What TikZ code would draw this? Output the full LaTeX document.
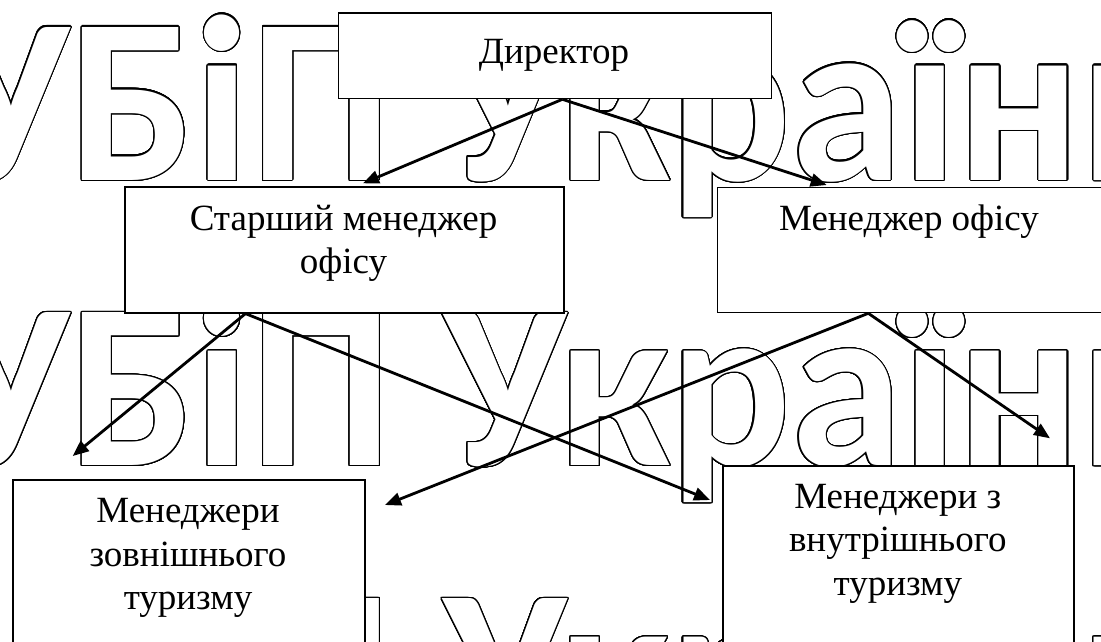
\documentclass[tikz,border=0pt]{standalone}
\usepackage{fontspec}
\setmainfont{Liberation Serif}
\newfontfamily\wmfont{Carlito}
\usepackage{graphicx}
\usepackage{contour}
\contourlength{1.2pt}
\contournumber{32}
\usetikzlibrary{arrows.meta,calc}
\newcommand{\lines}[1]{\begin{tabular}[t]{@{}c@{}}#1\end{tabular}}
\newcommand{\wmtext}{\scalebox{0.955}[1]{\contour{black}{УБіП України}}}
\begin{document}
\begin{tikzpicture}[x=1pt,y=-1pt,
  box/.style={draw=black, line width=1.6pt, fill=white, rectangle, inner sep=0pt, anchor=north west},
  lbl/.style={inner sep=0pt, anchor=base, font=\fontsize{37}{43.5}\selectfont},
  arr/.style={line width=2.8pt, -{Triangle[length=16pt,width=13pt]}},
  wm/.style={inner sep=0pt, anchor=base west, text=white, font=\fontsize{236}{236}\wmfont\bfseries}]
\useasboundingbox (0,0) rectangle (1101,641);
\clip (0,0) rectangle (1101,641);
% watermark
\node[wm] (wm1) at (-54,180) {\wmtext};
\node[wm] (wm2) at (-54,465.7) {\wmtext};
\node[wm] (wm3) at (-54,751.4) {\wmtext};
% boxes
\node[box, minimum width=433pt, minimum height=85.4pt] (dir) at (337.7,12.3) {};
\node[box, minimum width=439.3pt, minimum height=125.7pt] (sen) at (124,186.3) {};
\node[box, minimum width=420pt, minimum height=125pt] (off) at (716.7,186.7) {};
\node[box, minimum width=351.7pt, minimum height=200pt] (ext) at (12.3,479.3) {};
\node[box, minimum width=351pt, minimum height=200pt] (int) at (722.3,465) {};
% labels
\node[lbl] (dirT) at (554,63) {Директор};
\node[lbl] (senT) at (343.5,230) {\lines{Старший менеджер\\офісу}};
\node[lbl] (offT) at (909,230) {Менеджер офісу};
\node[lbl] (extT) at (188,522.7) {\lines{Менеджери\\зовнішнього\\туризму}};
\node[lbl] (intT) at (897.8,508) {\lines{Менеджери з\\внутрішнього\\туризму}};
% connector ends
\coordinate (dS) at ($(dir.south west)!0.517!(dir.south east)$);
\coordinate (sS) at ($(sen.south west)!0.2755!(sen.south east)$);
\coordinate (oS) at ($(off.south west)+(151.6,0)$);
\coordinate (t1) at (363,183.3);
\coordinate (t2) at (826.7,185);
\coordinate (t3) at (72.7,456);
\coordinate (t4) at (710,500);
\coordinate (t5) at (385,505);
\coordinate (t6) at (1050,438.3);
\draw[arr] (dS) -- (t1);
\draw[arr] (dS) -- (t2);
\draw[arr] (sS) -- (t3);
\draw[arr] (sS) -- (t4);
\draw[arr] (oS) -- (t5);
\draw[arr] (oS) -- (t6);
\end{tikzpicture}
\end{document}
